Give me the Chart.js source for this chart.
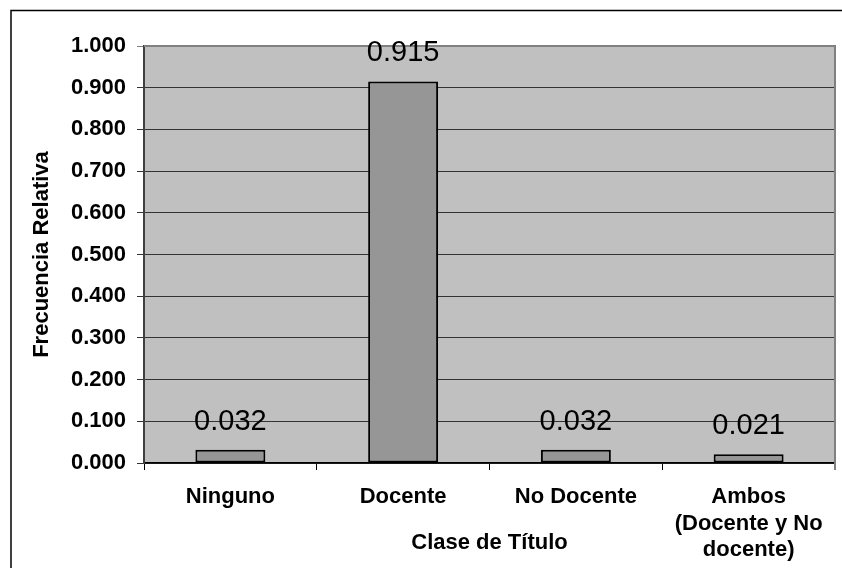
<!DOCTYPE html>
<html>
<head>
<meta charset="utf-8">
<script src="https://cdn.jsdelivr.net/npm/chart.js@4"></script>
<style>
  body { margin: 0; background: #fff; }
  canvas { display: block; }
</style>
</head>
<body>
<canvas id="tituloChart" width="842" height="568"></canvas>
<script>
// Daten
const categories = ['Ninguno', 'Docente', 'No Docente', ['Ambos', '(Docente y No', 'docente)']];
const frecuencias = [0.032, 0.915, 0.032, 0.021];
const yTicks = [0, 0.1, 0.2, 0.3, 0.4, 0.5, 0.6, 0.7, 0.8, 0.9, 1.0];

const FONT = 'Arial, "Liberation Sans", sans-serif';

// Hintergrund, Rahmen und Werte-Labels
const excelLook = {
  id: 'excelLook',
  beforeDraw(chart) {
    const { ctx, chartArea: a } = chart;
    ctx.save();
    ctx.fillStyle = '#ffffff';
    ctx.fillRect(0, 0, chart.width, chart.height);
    ctx.fillStyle = '#c0c0c0';
    ctx.fillRect(a.left, a.top, a.right - a.left, a.bottom - a.top);
    ctx.strokeStyle = '#000';
    ctx.lineWidth = 1.5;
    ctx.strokeRect(11, 10.5, 1000, 1000);
    ctx.restore();
  },
  afterDraw(chart) {
    const { ctx, chartArea: a } = chart;
    ctx.save();
    // Rahmen Plotfläche oben / rechts
    ctx.strokeStyle = '#808080';
    ctx.lineWidth = 2;
    ctx.beginPath();
    ctx.moveTo(a.left, a.top);
    ctx.lineTo(a.right, a.top);
    ctx.lineTo(a.right, a.bottom + 7);
    ctx.stroke();
    // Werte über den Balken
    const meta = chart.getDatasetMeta(0);
    ctx.fillStyle = '#000';
    ctx.font = '29px ' + FONT;
    ctx.textAlign = 'center';
    ctx.textBaseline = 'alphabetic';
    meta.data.forEach((bar, i) => {
      ctx.fillText(frecuencias[i].toFixed(3), bar.x, bar.y - 20);
    });
    ctx.restore();
  }
};

const config = {
  type: 'bar',
  data: {
    labels: categories,
    datasets: [{
      data: frecuencias,
      backgroundColor: '#969696',
      borderColor: '#000',
      borderWidth: 2,
      borderSkipped: false,
      barPercentage: 0.405,
      categoryPercentage: 1
    }]
  },
  options: {
    responsive: false,
    animation: false,
    layout: { padding: { top: 46, right: 7, left: 0, bottom: 0 } },
    plugins: {
      legend: { display: false },
      tooltip: { enabled: false }
    },
    scales: {
      x: {
        afterFit(scale) { scale.height = 105; },
        grid: {
          offset: true,
          drawOnChartArea: false,
          drawTicks: true,
          tickLength: 7,
          color: '#000'
        },
        border: { color: '#000', width: 1.5 },
        ticks: {
          color: '#000',
          padding: 14,
          maxRotation: 0,
          autoSkip: false,
          font: { family: FONT, size: 22, weight: 'bold', lineHeight: 1.2 }
        },
        title: {
          display: true,
          text: 'Clase de Título',
          color: '#000',
          padding: { top: 0, bottom: 12 },
          font: { family: FONT, size: 22, weight: 'bold' }
        }
      },
      y: {
        min: 0,
        max: 1,
        afterFit(scale) { scale.width = 144; },
        afterBuildTicks(scale) {
          scale.ticks = yTicks.map(v => ({ value: v }));
        },
        grid: {
          color: ctx => (ctx.tick && ctx.tick.value === 1 ? '#808080' : '#333333'),
          tickLength: 7,
          lineWidth: 1
        },
        border: { color: '#404040', width: 2 },
        ticks: {
          color: '#000',
          padding: 11,
          font: { family: FONT, size: 22, weight: 'bold' },
          callback: v => Number(v).toFixed(3)
        },
        title: {
          display: true,
          text: 'Frecuencia Relativa',
          color: '#000',
          padding: { top: 29, bottom: 0 },
          font: { family: FONT, size: 22, weight: 'bold' }
        }
      }
    }
  },
  plugins: [excelLook]
};

const chart = new Chart(document.querySelector('#tituloChart'), config);
</script>
</body>
</html>
